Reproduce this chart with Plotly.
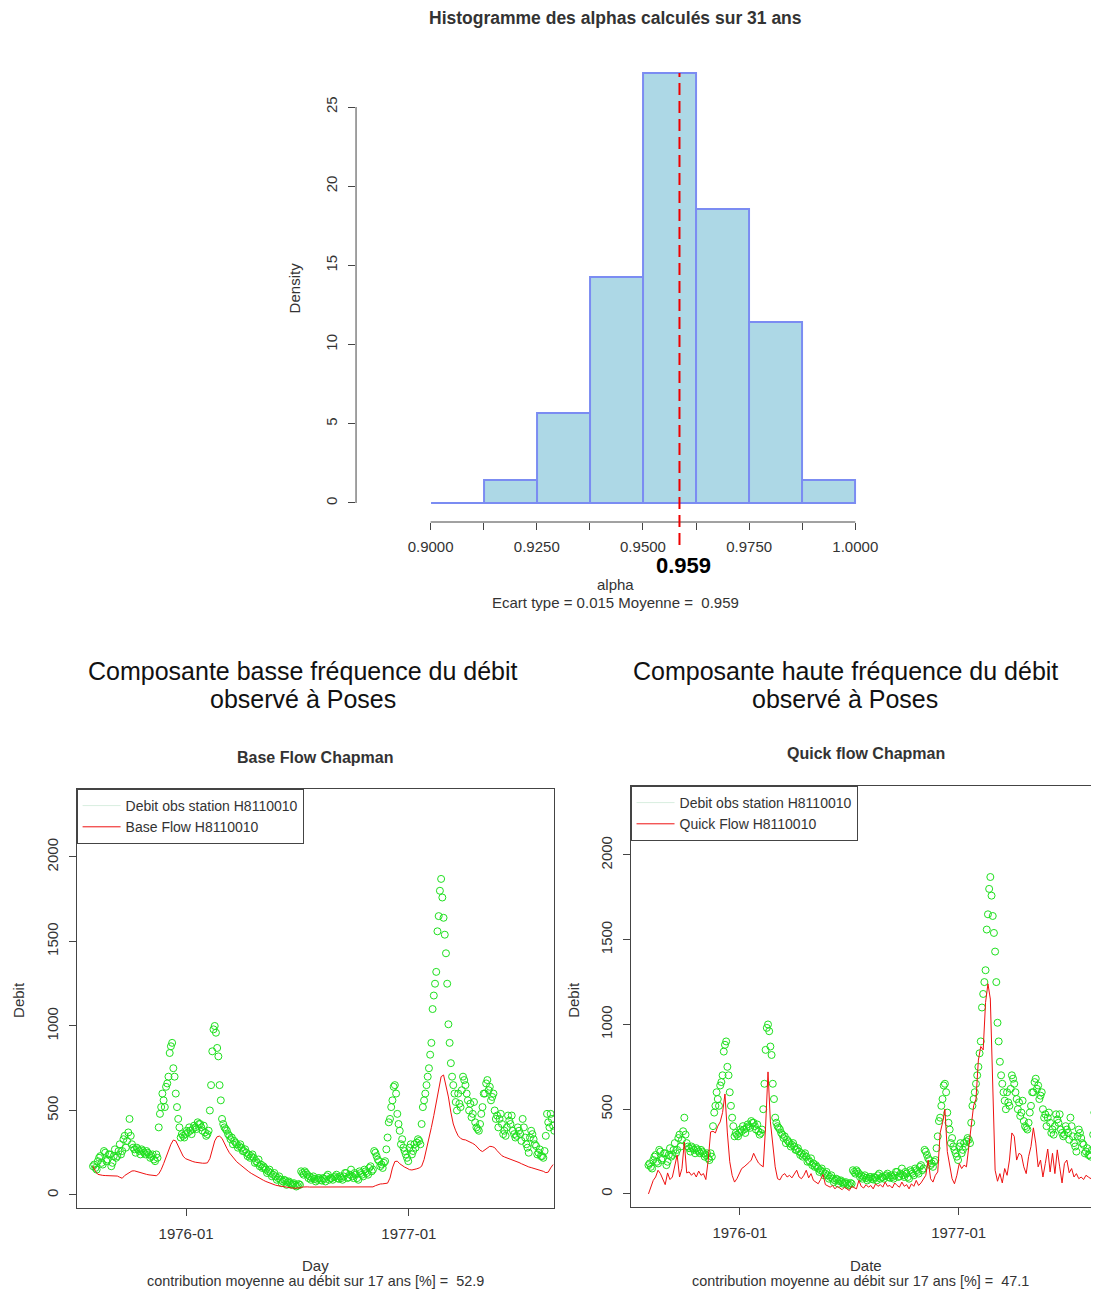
import plotly.graph_objects as go
import pandas as pd

W, H = 1097, 1289

# ---------------- Histogram data ----------------
alpha_breaks = [0.9, 0.9125, 0.925, 0.9375, 0.95, 0.9625, 0.975, 0.9875, 1.0]
alpha_density = [0.0, 1.43, 5.71, 14.29, 27.14, 18.57, 11.43, 1.43]
alpha_tick_labels = ["0.9000", "", "0.9250", "", "0.9500", "", "0.9750", "", "1.0000"]
density_ticks = [0, 5, 10, 15, 20, 25]
alpha_mean = 0.9586
alpha_sd = 0.015

# ---------------- Time series data ----------------
# observed flow read every 4 days from 1975-08-01 ...
series_start = "1975-08-01"
obs_flow = [
    170, 160, 200, 230, 180, 250, 210, 240, 190, 270,
    230, 300, 260, 350, 320, 450, 300, 270, 280, 260,
    270, 250, 260, 240, 230, 210, 240, 400, 520, 560,
    640, 700, 880, 750, 600, 450, 340, 350, 360, 370,
    380, 390, 400, 430, 420, 380, 370, 360, 500, 850,
    1000, 870, 650, 450, 400, 380, 350, 340, 320, 300,
    290, 280, 260, 250, 240, 230, 220, 200, 210, 180,
    170, 150, 140, 130, 120, 110, 100, 90, 80, 85,
    75, 70, 65, 60, 55, 60, 130, 140, 120, 110,
    100, 95, 90, 100, 85, 95, 110, 90, 100, 105,
    120, 95, 100, 110, 130, 105, 150, 100, 120, 90,
    130, 110, 140, 120, 170, 150, 250, 210, 170, 160,
    200, 340, 450, 560, 650, 480, 380, 330, 260, 220,
    280, 240, 300, 310, 320, 420, 560, 650, 750, 900,
    1180, 1320, 1650, 1870, 1640, 1430, 1010, 780, 650, 550,
    600, 520, 700, 650, 560, 540, 480, 430, 390, 420,
    520, 600, 680, 640, 580, 500, 470, 450, 420, 380,
    400, 440, 470, 360, 350, 380, 320, 400, 300, 250,
    380, 330, 290, 250, 230, 220, 350, 430, 480, 410,
]
# ... and the in-between readings, every 4 days from 1975-08-03
series_start_mid = "1975-08-03"
obs_flow_mid = [
    180, 150, 220, 190, 260, 200, 240, 170, 230, 220,
    260, 240, 330, 280, 370, 350, 280, 250, 270, 240,
    260, 240, 250, 220, 240, 200, 220, 480, 600, 520,
    660, 840, 900, 700, 520, 400, 360, 340, 380, 400,
    360, 410, 390, 420, 400, 410, 350, 380, 650, 980,
    960, 820, 560, 420, 390, 360, 330, 300, 310, 280,
    300, 260, 270, 230, 220, 240, 190, 190, 170, 160,
    160, 130, 150, 110, 130, 90, 110, 70, 90, 60,
    80, 60, 70, 50, 65, 140, 120, 130, 100, 90,
    110, 80, 100, 90, 100, 80, 120, 100, 90, 110,
    100, 110, 90, 130, 100, 120, 110, 130, 100, 140,
    120, 150, 130, 160, 140, 260, 230, 200, 180, 190,
    270, 430, 520, 640, 600, 420, 300, 280, 240, 200,
    300, 260, 280, 330, 300, 520, 600, 700, 830, 1100,
    1250, 1560, 1800, 1760, 1540, 1250, 900, 700, 600, 500,
    540, 620, 680, 600, 500, 460, 550, 400, 380, 480,
    600, 660, 620, 560, 600, 450, 400, 480, 360, 350,
    470, 420, 380, 340, 400, 360, 450, 340, 280, 340,
    360, 300, 240, 270, 230, 260, 480, 400, 450, 380,
]

# base flow and quick flow, every 4 days from 1975-08-01
base_flow = [
    172, 140, 122, 118, 116, 115, 114, 113, 112, 110,
    112, 105, 99, 115, 125, 135, 142, 143, 138, 133,
    128, 125, 122, 119, 117, 115, 114, 125, 150, 185,
    225, 265, 300, 325, 320, 290, 255, 230, 215, 208,
    202, 198, 194, 191, 189, 188, 188, 190, 215, 270,
    320, 345, 348, 335, 300, 276, 250, 230, 212, 197,
    185, 172, 160, 148, 138, 128, 119, 110, 101, 94,
    87, 80, 74, 68, 62, 58, 55, 52, 49, 46,
    44, 42, 41, 40, 40, 42, 47, 49, 48, 47,
    47, 46, 46, 46, 45, 45, 45, 45, 45, 45,
    45, 45, 45, 45, 46, 46, 46, 47, 47, 47,
    46, 46, 46, 46, 46, 48, 55, 62, 65, 66,
    68, 70, 100, 160, 198, 200, 185, 172, 165, 158,
    150, 148, 150, 155, 160, 170, 210, 270, 330, 400,
    470, 540, 630, 700, 710, 650, 580, 490, 420, 380,
    350, 335, 328, 326, 320, 312, 305, 296, 280, 265,
    257, 268, 282, 288, 286, 280, 262, 245, 232, 225,
    220, 215, 210, 206, 200, 192, 185, 178, 172, 166,
    162, 158, 155, 150, 145, 140, 132, 135, 160, 180,
]

quick_flow = [
    0, 40, 80, 100, 140, 120, 90, 55, 124, 85,
    100, 160, 230, 100, 150, 305, 124, 130, 110, 125,
    100, 135, 110, 120, 85, 200, 366, 370, 360, 400,
    425, 480, 590, 360, 190, 110, 70, 90, 120, 150,
    160, 170, 185, 200, 240, 210, 183, 170, 160, 400,
    720, 425, 300, 160, 90, 83, 110, 120, 100, 110,
    95, 120, 140, 100, 90, 110, 140, 95, 120, 80,
    70, 60, 85, 115, 55, 45, 40, 50, 30, 45,
    35, 25, 40, 30, 20, 45, 35, 30, 80, 45,
    35, 55, 40, 50, 30, 60, 45, 55, 40, 70,
    45, 50, 35, 65, 50, 40, 70, 45, 55, 30,
    60, 45, 80, 50, 65, 90, 110, 200, 90, 70,
    110, 130, 360, 420, 500, 250, 170, 90, 60, 110,
    180, 150, 170, 160, 280, 420, 520, 560, 790, 870,
    850, 1130, 1240, 1150, 600, 140, 75, 120, 65, 150,
    110, 200, 360, 340, 200, 240, 230, 160, 120, 220,
    280, 390, 300, 160, 200, 100, 180, 265, 130, 240,
    120, 260, 160, 65, 180, 200, 125, 150, 100, 120,
    90, 100, 85, 110, 100, 90, 120, 80, 100, 90,
]

date_tickvals = ["1976-01-01", "1977-01-01"]
date_ticktext = ["1976-01", "1977-01"]
flow_ticks = [0, 500, 1000, 1500, 2000]
contrib_base = 52.9
contrib_quick = 47.1
station = "H8110010"

dates = pd.date_range(series_start, periods=len(obs_flow), freq="4D")
dates_mid = pd.date_range(series_start_mid, periods=len(obs_flow_mid), freq="4D")
obs_x = list(dates) + list(dates_mid)
obs_y = obs_flow + obs_flow_mid

# ---------------- helpers ----------------
FONT = "Liberation Sans, Arial, Helvetica, sans-serif"
AX = "#444444"
TXT = "#333333"
GREEN = "#1EE01E"
RED = "#EE1111"


def px_x(p):
    return p / W


def px_y(p):
    return 1 - p / H


fig = go.Figure()

# histogram bars
centers = [(a + b) / 2 for a, b in zip(alpha_breaks[:-1], alpha_breaks[1:])]
widths = [b - a for a, b in zip(alpha_breaks[:-1], alpha_breaks[1:])]
fig.add_trace(go.Bar(
    x=centers, y=alpha_density, width=widths,
    marker=dict(color="#ADD8E6", line=dict(color="#7B8CF2", width=2)),
    xaxis="x", yaxis="y", showlegend=False, hoverinfo="skip",
))

marker_style = dict(symbol="circle-open", size=7, color=GREEN, line=dict(width=1))

# left panel: base flow
fig.add_trace(go.Scatter(
    x=obs_x, y=obs_y, mode="markers", xaxis="x2", yaxis="y2",
    marker=marker_style, showlegend=False, hoverinfo="skip",
))
fig.add_trace(go.Scatter(
    x=[None], y=[None], mode="lines", xaxis="x2", yaxis="y2",
    line=dict(color="#D8EEDF", width=1),
    name=f"Debit obs station {station}", legend="legend",
))
fig.add_trace(go.Scatter(
    x=dates, y=base_flow, mode="lines", xaxis="x2", yaxis="y2",
    line=dict(color=RED, width=1), name=f"Base Flow {station}", legend="legend",
    hoverinfo="skip",
))

# right panel: quick flow
fig.add_trace(go.Scatter(
    x=obs_x, y=obs_y, mode="markers", xaxis="x3", yaxis="y3",
    marker=marker_style, showlegend=False, hoverinfo="skip",
))
fig.add_trace(go.Scatter(
    x=[None], y=[None], mode="lines", xaxis="x3", yaxis="y3",
    line=dict(color="#D8EEDF", width=1),
    name=f"Debit obs station {station}", legend="legend2",
))
fig.add_trace(go.Scatter(
    x=dates, y=quick_flow, mode="lines", xaxis="x3", yaxis="y3",
    line=dict(color=RED, width=1), name=f"Quick Flow {station}", legend="legend2",
    hoverinfo="skip",
))

tickfont = dict(family=FONT, size=15, color=TXT)

common_ax = dict(showgrid=False, zeroline=False, ticks="outside", ticklen=7,
                 tickcolor=AX, tickwidth=1, tickfont=tickfont)

legend_style = dict(xanchor="left", yanchor="top", bgcolor="white",
                    bordercolor=AX, borderwidth=1,
                    font=dict(family=FONT, size=14, color=TXT),
                    tracegroupgap=0, itemwidth=38)

fig.update_layout(
    width=W, height=H,
    margin=dict(l=0, r=0, t=0, b=0),
    paper_bgcolor="white", plot_bgcolor="white",
    font=dict(family=FONT, color=TXT),
    bargap=0,
    xaxis=dict(domain=[px_x(358), px_x(877)], range=[0.88244, 1.00398], anchor="y",
               tickvals=alpha_breaks, ticktext=alpha_tick_labels, showline=False,
               ticklabelstandoff=4, **common_ax),
    yaxis=dict(domain=[px_y(522), px_y(56)], range=[-1.2, 28.22], anchor="x",
               tickvals=density_ticks, tickangle=-90, showline=False,
               ticklabelstandoff=5, **common_ax),
    xaxis2=dict(domain=[px_x(77), px_x(557)], range=["1975-07-05", "1977-08-27 10:00"],
                anchor="y2", tickvals=date_tickvals, ticktext=date_ticktext,
                showline=True, mirror=True, linecolor=AX, linewidth=1,
                ticklabelstandoff=5, **common_ax),
    yaxis2=dict(domain=[px_y(1208), px_y(789)], range=[-77, 2402], anchor="x2",
                tickvals=flow_ticks, tickangle=-90, showline=True, mirror=True,
                linecolor=AX, linewidth=1, ticklabelstandoff=5, **common_ax),
    xaxis3=dict(domain=[px_x(634), 1.0], range=["1975-07-02", "1977-08-10 10:00"],
                anchor="y3", tickvals=date_tickvals, ticktext=date_ticktext,
                showline=True, mirror=True, linecolor=AX, linewidth=1,
                ticklabelstandoff=5, **common_ax),
    yaxis3=dict(domain=[px_y(1207), px_y(786)], range=[-77, 2407], anchor="x3",
                tickvals=flow_ticks, tickangle=-90, showline=True, mirror=False,
                linecolor=AX, linewidth=1, ticklabelstandoff=5, **common_ax),
    legend=dict(x=px_x(77), y=px_y(789), **legend_style),
    legend2=dict(x=px_x(634), y=px_y(786), **legend_style),
)

# axis lines for the histogram (R style: span first to last tick)
fig.add_shape(type="line", xref="x", yref="y domain",
              x0=alpha_breaks[0], x1=alpha_breaks[-1], y0=0, y1=0,
              line=dict(color=AX, width=1))
fig.add_shape(type="line", xref="x domain", yref="y",
              x0=0, x1=0, y0=density_ticks[0], y1=density_ticks[-1],
              line=dict(color=AX, width=1))
# mean line
fig.add_shape(type="line", xref="x", yref="paper",
              x0=alpha_mean, x1=alpha_mean, y0=px_y(545), y1=px_y(73),
              line=dict(color="#EE0000", width=2, dash="12px,6px"))


def ann(text, x, y, size=15, bold=False, angle=0, color=TXT, xref="paper", xshift=0):
    t = f"<b>{text}</b>" if bold else text
    fig.add_annotation(text=t, x=x if xref != "paper" else px_x(x), y=px_y(y),
                       xref=xref, yref="paper", showarrow=False, xshift=xshift,
                       xanchor="center", yanchor="middle", textangle=angle,
                       font=dict(family=FONT, size=size, color=color))


mean_txt = f"{alpha_mean:.3f}"
ann("Histogramme des alphas calculés sur 31 ans", 619, 18, size=17.5, bold=True)
ann("Density", 297, 288, size=15, angle=-90)
ann(mean_txt, alpha_mean, 565, size=22, bold=True, color="black", xref="x", xshift=4)
ann("alpha", 619, 584, size=15)
ann(f"Ecart type = {alpha_sd} Moyenne =  {mean_txt}", 619, 602, size=15)

ann("Composante basse fréquence du débit", 305, 671, size=25, color="#111111")
ann("observé à Poses", 305, 699, size=25, color="#111111")
ann("Composante haute fréquence du débit", 850, 671, size=25, color="#111111")
ann("observé à Poses", 850, 699, size=25, color="#111111")

ann("Base Flow Chapman", 317, 757, size=16, bold=True)
ann("Quick flow Chapman", 871, 753, size=16, bold=True)

ann("Debit", 18, 1000, size=15, angle=-90)
ann("Debit", 576, 1000, size=15, angle=-90)
ann("Day", 317, 1265, size=15)
ann(f"contribution moyenne au débit sur 17 ans [%] =  {contrib_base}", 317, 1281, size=14.4)
ann("Date", 871, 1265, size=15)
ann(f"contribution moyenne au débit sur 17 ans [%] =  {contrib_quick}", 865, 1281, size=14.4)

fig.write_html("out.html")
